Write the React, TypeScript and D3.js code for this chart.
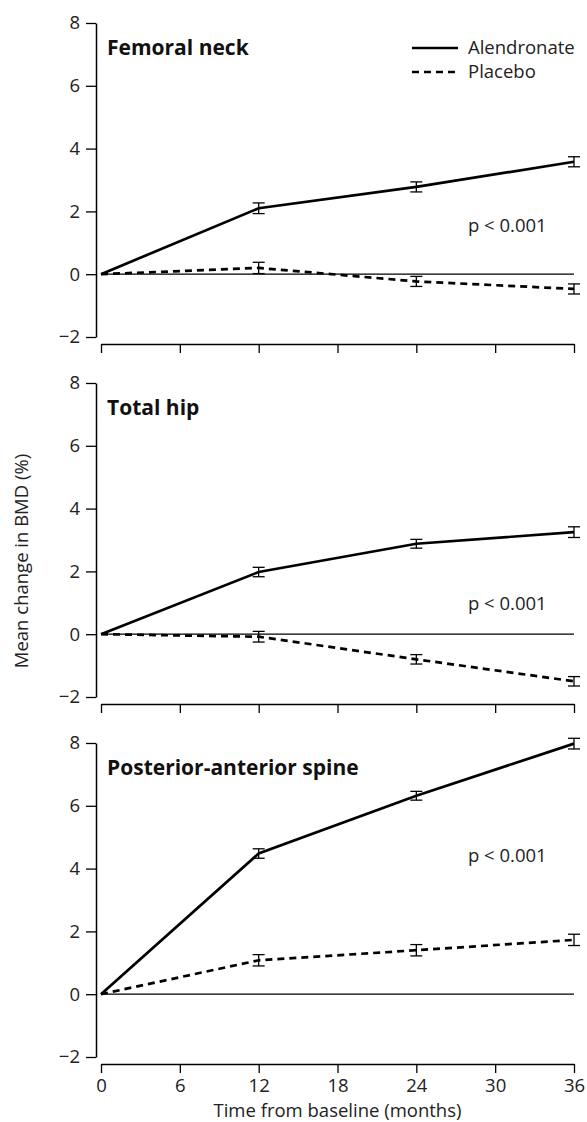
import React, { useEffect, useRef } from "react";
import * as d3 from "d3";

const months = [0, 12, 24, 36];
const panelTitles = ["Femoral neck", "Total hip", "Posterior-anterior spine"];
const alendronate = [
  [0, 2.1, 2.78, 3.58],
  [0, 1.98, 2.88, 3.25],
  [0, 4.48, 6.32, 7.98],
];
const alendronateErr = [
  [0, 0.17, 0.16, 0.16],
  [0, 0.15, 0.14, 0.17],
  [0, 0.15, 0.14, 0.17],
];
const placebo = [
  [0, 0.2, -0.23, -0.47],
  [0, -0.08, -0.8, -1.5],
  [0, 1.08, 1.4, 1.73],
];
const placeboErr = [
  [0, 0.18, 0.16, 0.16],
  [0, 0.17, 0.15, 0.15],
  [0, 0.18, 0.18, 0.18],
];
const pValueLabel = "p < 0.001";
const pValuePos = [1.55, 0.95, 4.4];
const yTicks = [-2, 0, 2, 4, 6, 8];
const xTicks = [0, 6, 12, 18, 24, 30, 36];
const legendLabels = ["Alendronate", "Placebo"];

const W = 587;
const H = 1122;
const FONT = "'Open Sans', 'Noto Sans', sans-serif";

export default function App() {
  const ref = useRef<SVGSVGElement>(null);

  useEffect(() => {
    const svg = d3.select(ref.current);
    svg.selectAll("*").remove();

    const x = d3.scaleLinear().domain([0, 36]).range([101, 574]);

    panelTitles.forEach((title, i) => {
      const off = 360 * i;
      const y = d3.scaleLinear().domain([-2, 8]).range([337 + off, 23 + off]);
      const g = svg.append("g");

      const ya = g
        .append("g")
        .attr("transform", "translate(96,0)")
        .call(
          d3.axisLeft(y).tickValues(yTicks).tickSize(10).tickSizeOuter(0).tickPadding(6)
        );
      ya.select(".domain").attr("stroke", "#000").attr("stroke-width", 1.5);
      ya.selectAll(".tick line").attr("stroke", "#000").attr("stroke-width", 1.3);
      ya.selectAll(".tick text")
        .attr("font-family", FONT)
        .attr("font-size", 18.5)
        .attr("fill", "#222");

      const xa = g
        .append("g")
        .attr("transform", `translate(0,${y(-2) + 7})`)
        .call(
          d3
            .axisBottom(x)
            .tickValues(xTicks)
            .tickSize(9)
            .tickSizeOuter(0)
            .tickPadding(6)
            .tickFormat((d) => (i === 2 ? String(d) : ""))
        );
      xa.select(".domain").attr("stroke", "#000").attr("stroke-width", 1.5);
      xa.selectAll(".tick line").attr("stroke", "#000").attr("stroke-width", 1.3);
      xa.selectAll(".tick text")
        .attr("font-family", FONT)
        .attr("font-size", 18.5)
        .attr("fill", "#222");

      g.append("line")
        .attr("x1", x(0))
        .attr("x2", x(36))
        .attr("y1", y(0))
        .attr("y2", y(0))
        .attr("stroke", "#000")
        .attr("stroke-width", 1.2);

      g.append("text")
        .attr("x", 107)
        .attr("y", y(8) + 32)
        .attr("font-family", FONT)
        .attr("font-size", 21)
        .attr("font-weight", 700)
        .attr("fill", "#111")
        .text(title);

      g.append("text")
        .attr("x", 468)
        .attr("y", y(pValuePos[i]) + 6)
        .attr("font-family", FONT)
        .attr("font-size", 18.5)
        .attr("fill", "#222")
        .text(pValueLabel);

      const line = d3
        .line<number>()
        .x((_, k) => x(months[k]))
        .y((d) => y(d));

      const series = [
        { vals: placebo[i], errs: placeboErr[i], dash: "7,5" },
        { vals: alendronate[i], errs: alendronateErr[i], dash: null },
      ];
      series.forEach((s) => {
        g.append("path")
          .attr("d", line(s.vals))
          .attr("fill", "none")
          .attr("stroke", "#000")
          .attr("stroke-width", 2.7)
          .attr("stroke-dasharray", s.dash);
        s.vals.forEach((v, k) => {
          if (s.errs[k] <= 0) return;
          const cx = x(months[k]);
          const eg = g.append("g").attr("stroke", "#000").attr("stroke-width", 1.3);
          eg.append("line")
            .attr("x1", cx)
            .attr("x2", cx)
            .attr("y1", y(v - s.errs[k]))
            .attr("y2", y(v + s.errs[k]));
          [v - s.errs[k], v + s.errs[k]].forEach((e) => {
            eg.append("line")
              .attr("x1", cx - 6)
              .attr("x2", cx + 6)
              .attr("y1", y(e))
              .attr("y2", y(e));
          });
        });
      });
    });

    legendLabels.forEach((lab, k) => {
      const ly = 48 + 24 * k;
      svg
        .append("line")
        .attr("x1", 412)
        .attr("x2", 458)
        .attr("y1", ly)
        .attr("y2", ly)
        .attr("stroke", "#000")
        .attr("stroke-width", 2.7)
        .attr("stroke-dasharray", k === 1 ? "7,5" : null);
      svg
        .append("text")
        .attr("x", 468)
        .attr("y", ly + 6)
        .attr("font-family", FONT)
        .attr("font-size", 18.5)
        .attr("fill", "#222")
        .text(lab);
    });

    svg
      .append("text")
      .attr("transform", `translate(28,561) rotate(-90)`)
      .attr("text-anchor", "middle")
      .attr("font-family", FONT)
      .attr("font-size", 18.5)
      .attr("fill", "#222")
      .text("Mean change in BMD (%)");

    svg
      .append("text")
      .attr("x", x(18))
      .attr("y", 1117)
      .attr("text-anchor", "middle")
      .attr("font-family", FONT)
      .attr("font-size", 18.5)
      .attr("fill", "#222")
      .text("Time from baseline (months)");
  }, []);

  return (
    <svg
      ref={ref}
      width={W}
      height={H}
      style={{ position: "absolute", left: 0, top: 0, background: "#fff", display: "block" }}
    />
  );
}
